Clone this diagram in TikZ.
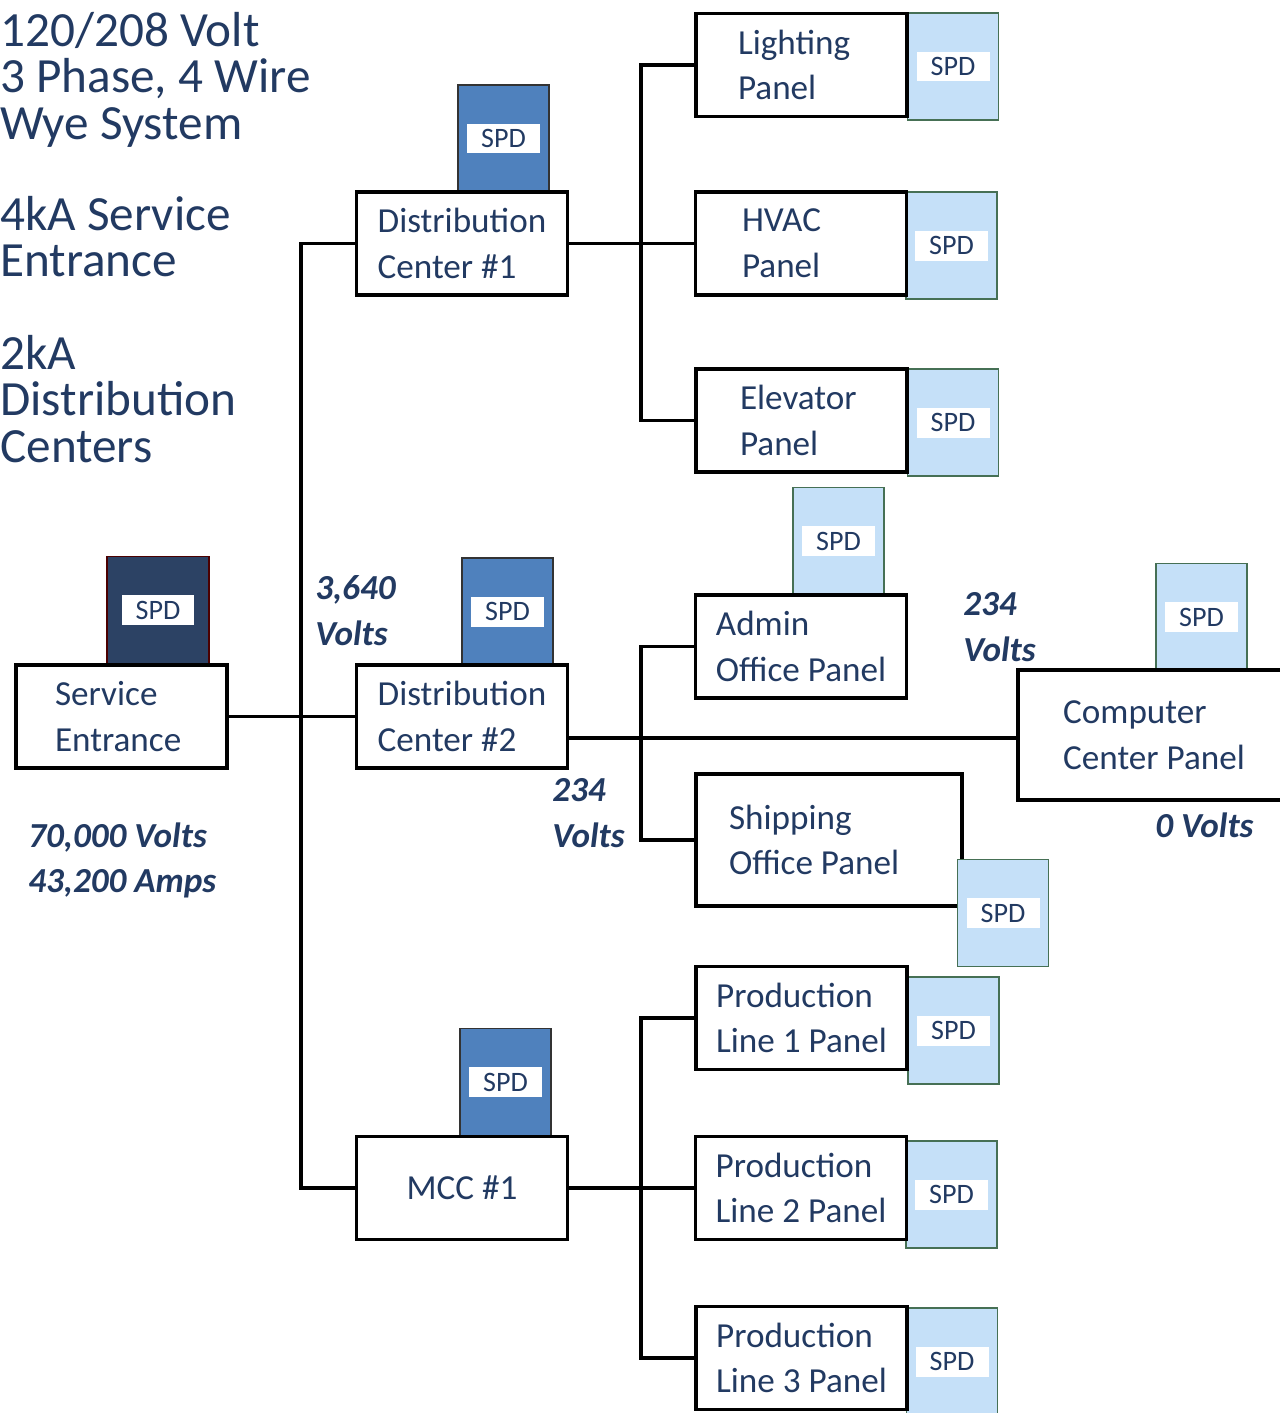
\documentclass[tikz,border=0pt]{standalone}
\usepackage{fontspec}
\setmainfont{Carlito}
\usepackage{xcolor}
\usepackage{tikz}
\definecolor{txtBlue}{RGB}{34,58,98}
\definecolor{spdNavy}{RGB}{44,66,100}
\definecolor{spdBlue}{RGB}{79,129,189}
\definecolor{spdLight}{RGB}{197,224,248}
\definecolor{spdEdge}{RGB}{70,112,85}

\begin{document}
\begin{tikzpicture}[x=0.02cm,y=-0.02cm,
  panel/.style={draw=black,line width=2pt,fill=white,text=txtBlue,align=flush left,
    minimum width=4.22cm,minimum height=2.06cm,inner sep=0pt,
    font=\fontsize{20}{26}\selectfont},
  spdbox/.style={minimum width=1.82cm,minimum height=2.14cm,inner sep=0pt,line width=0.7pt},
  spdnavy/.style={spdbox,fill=spdNavy,draw=black!70!red,minimum width=2.04cm},
  spdblue/.style={spdbox,fill=spdBlue,draw=black!80},
  spdlight/.style={spdbox,fill=spdLight,draw=spdEdge},
  spdtag/.style={fill=white,text=txtBlue,minimum width=1.46cm,minimum height=0.6cm,
    inner sep=0pt,font=\fontsize{16}{16}\selectfont},
  wire/.style={line width=1.9pt},
  note/.style={text=txtBlue,align=left,anchor=north west,inner sep=0pt,
    font={\fontsize{28}{26.4}\selectfont\lineskiplimit=-30pt}},
  volt/.style={text=txtBlue,align=left,anchor=north west,inner sep=0pt,
    font=\fontsize{20}{26}\selectfont\bfseries\itshape}]
  \useasboundingbox (0,0) rectangle (1279,1413);

  % surge protective devices
  \foreach \n/\x/\y/\s in {se/158/610/spdnavy, dc1/503.5/138.5/spdblue,
      dc2/507.5/611.5/spdblue, mcc/505.5/1082/spdblue,
      light/953/66.5/spdlight, hvac/951.5/245.5/spdlight, elev/953/422.5/spdlight,
      admin/838.5/541/spdlight, comp/1201.5/617/spdlight,
      pl1/953.5/1030.5/spdlight, pl2/951.5/1194.5/spdlight, pl3/952/1361.5/spdlight}
    {\node[\s] (spd-\n) at (\x,\y) {};
     \node[spdtag] (tag-\n) at (spd-\n) {SPD};}

  % panels
  \node[panel,text width=2.66cm] (se) at (121.5,716.5) {Service\\Entrance};
  \node[panel] (dc1) at (462,243.5) {Distribution\\Center \#1};
  \node[panel] (dc2) at (462,716.5) {Distribution\\Center \#2};
  \node[panel,align=center] (mcc) at (462,1188) {MCC \#1};
  \node[panel,text width=2.54cm] (light) at (801.5,65) {Lighting\\Panel};
  \node[panel,text width=2.36cm] (hvac) at (801,243.5) {HVAC\\Panel};
  \node[panel,text width=2.46cm] (elev) at (801.5,420.5) {Elevator\\Panel};
  \node[panel] (admin) at (801,646.5) {Admin\\Office Panel};
  \node[panel,minimum width=5.44cm,minimum height=2.6cm] (comp) at (1154,735) {Computer\\Center Panel};
  \node[panel,text width=4.0cm,minimum width=5.32cm,minimum height=2.64cm] (ship) at (829,840) {Shipping\\Office Panel};
  \node[panel] (pl1) at (801.5,1018) {Production\\Line 1 Panel};
  \node[panel] (pl2) at (801,1188) {Production\\Line 2 Panel};
  \node[panel] (pl3) at (801.5,1358) {Production\\Line 3 Panel};
  \node[spdlight] (spd-ship) at (1003,913) {};
  \node[spdtag] (tag-ship) at (spd-ship) {SPD};

  % feeders
  \coordinate (bus) at (301,716.5);
  \coordinate (j1) at (641,243.5);
  \coordinate (j2) at (641,738);
  \coordinate (j3) at (641,1188);
  \draw[wire] (se.east) -- (dc2.west);
  \draw[wire] (dc1.west) -| (bus) |- (mcc.west);
  \draw[wire] (dc1.east) -- (hvac.west);
  \draw[wire] (light.west) -| (j1) |- (elev.west);
  \draw[wire] (dc2.east |- j2) -- (comp.west |- j2);
  \draw[wire] (admin.west) -| (j2) |- (ship.west);
  \draw[wire] (mcc.east) -- (pl2.west);
  \draw[wire] (pl1.west) -| (j3) |- (pl3.west);

  % ratings
  \node[note] (sysinfo) at (0,12) {120/208 Volt\\3 Phase, 4 Wire\\Wye System};
  \node[note] (seinfo) at (0,196) {4kA Service\\Entrance};
  \node[note] (dcinfo) at (0,335) {2kA\\Distribution\\Centers};

  % let-through voltages
  \node[volt] (vse) at (28,822) {70,000 Volts\\43,200 Amps};
  \node[volt] (vbus) at (315,575) {3,640\\Volts};
  \node[volt] (vdc) at (552,778) {234\\Volts};
  \node[volt] (vadmin) at (963,592) {234\\Volts};
  \node[volt] (vcomp) at (1155,812) {0 Volts};
\end{tikzpicture}
\end{document}
